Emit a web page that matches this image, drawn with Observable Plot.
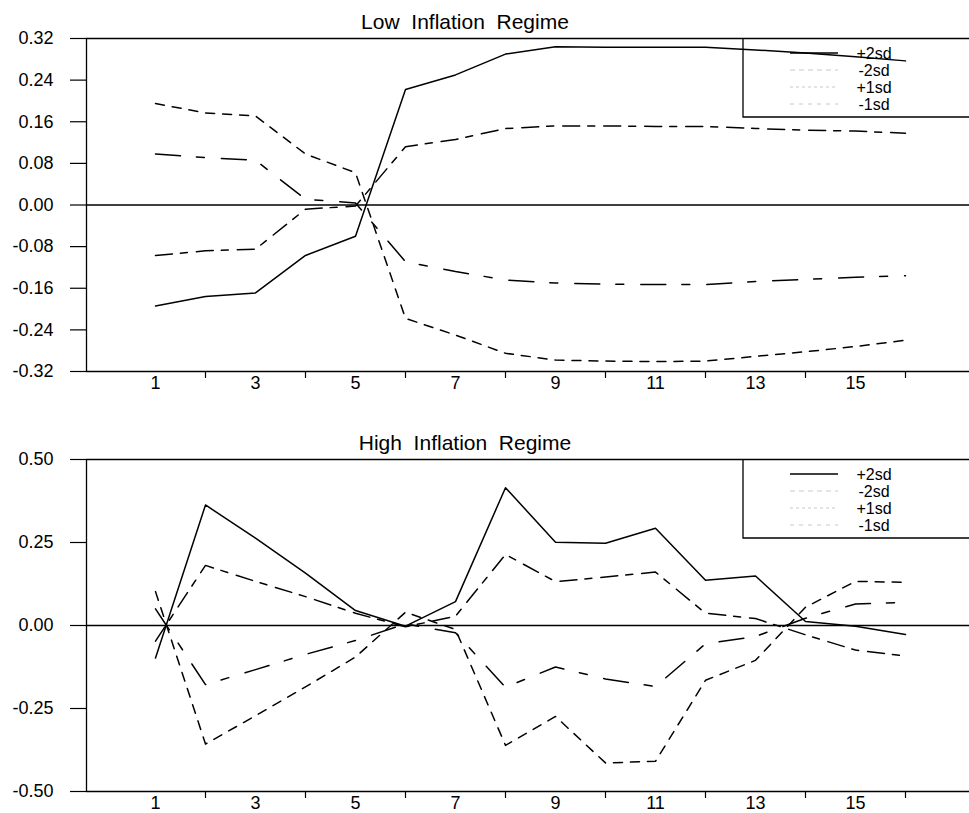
<!DOCTYPE html>
<html>
<head>
<meta charset="utf-8">
<script src="https://cdn.jsdelivr.net/npm/d3@7"></script>
<script src="https://cdn.jsdelivr.net/npm/@observablehq/plot@0.6"></script>
<style>
  body { margin: 0; background: #fff; }
  #chart { width: 969px; height: 813px; overflow: hidden; }
  #chart svg { display: block; }
</style>
</head>
<body>
<div id="chart"></div>
<script>
// ---------- data ----------
const steps = [1, 2, 3, 4, 5, 6, 7, 8, 9, 10, 11, 12, 13, 14, 15, 16];
const seriesNames = ["+2sd", "-2sd", "+1sd", "-1sd"];

// Low inflation regime
const lowPlus2  = [-0.194, -0.176, -0.169, -0.097, -0.060, 0.222, 0.250, 0.290, 0.304, 0.303, 0.303, 0.303, 0.298, 0.292, 0.285, 0.277];
const lowMinus2 = [0.195, 0.177, 0.171, 0.098, 0.062, -0.218, -0.250, -0.285, -0.298, -0.300, -0.301, -0.300, -0.291, -0.282, -0.272, -0.260];
const lowPlus1  = [-0.097, -0.088, -0.085, -0.008, -0.002, 0.112, 0.126, 0.147, 0.152, 0.152, 0.151, 0.151, 0.147, 0.144, 0.142, 0.138];
const lowMinus1 = [0.098, 0.091, 0.086, 0.011, 0.004, -0.109, -0.128, -0.144, -0.150, -0.152, -0.153, -0.153, -0.147, -0.143, -0.139, -0.136];

// High inflation regime
const highPlus2  = [-0.098, 0.363, 0.263, 0.158, 0.045, -0.002, 0.072, 0.415, 0.251, 0.248, 0.293, 0.136, 0.149, 0.012, -0.002, -0.027];
const highMinus2 = [0.102, -0.357, -0.272, -0.185, -0.095, 0.040, -0.012, -0.361, -0.274, -0.414, -0.409, -0.165, -0.105, 0.055, 0.133, 0.130];
const highPlus1  = [-0.047, 0.181, 0.133, 0.087, 0.037, -0.004, 0.028, 0.214, 0.132, 0.146, 0.161, 0.037, 0.021, -0.028, -0.074, -0.092];
const highMinus1 = [0.050, -0.178, -0.133, -0.087, -0.045, 0.005, -0.022, -0.186, -0.125, -0.161, -0.184, -0.055, -0.033, 0.022, 0.065, 0.070];

// ticks
const xTickMinor = [2, 4, 6, 8, 10, 12, 14, 16];
const xTickLabels = [1, 3, 5, 7, 9, 11, 13, 15];
const yTicksLow = [0.32, 0.24, 0.16, 0.08, 0, -0.08, -0.16, -0.24, -0.32];
const yTicksHigh = [0.5, 0.25, 0, -0.25, -0.5];

const titles = ["Low\u00a0\u00a0Inflation\u00a0\u00a0Regime", "High\u00a0\u00a0Inflation\u00a0\u00a0Regime"];

// ---------- styles ----------
const lineDash = [null, "9,8", "17,8,7,9", "25,16,8,17"];
const legendDash = [null, "5,4", "3,3", "4,5"];
const FONT = "'Liberation Sans', Arial, Helvetica, sans-serif";
const X_DOMAIN = [-0.38, 17.28];

function drawPanel(cfg) {
  const seriesValues = cfg.series;
  const rows = seriesValues.flatMap((vals, k) =>
    vals.map((v, i) => ({step: steps[i], value: v, name: seriesNames[k]})));

  const marks = [
    Plot.ruleY([cfg.yDomain[0], 0, cfg.yDomain[1]], {stroke: "black", strokeWidth: 1.3}),
    Plot.ruleX([X_DOMAIN[0]], {stroke: "black", strokeWidth: 1.3}),
    Plot.axisY(cfg.yTicks, {tickSize: 16, tickPadding: 17, tickFormat: d => d.toFixed(2),
      fontSize: 18, strokeWidth: 1.2, label: null}),
    Plot.axisX(xTickMinor, {tickSize: 7, tickFormat: () => "", label: null, strokeWidth: 1.2}),
    Plot.axisX(xTickLabels, {tickSize: 0, tickPadding: 5, fontSize: 18, label: null}),
    ...seriesNames.map((name, k) =>
      Plot.line(rows.filter(r => r.name === name), {
        x: "step", y: "value", stroke: "black", strokeWidth: 1.5,
        strokeDasharray: lineDash[k] || undefined
      }))
  ];

  const svg = Plot.plot({
    width: 969,
    height: cfg.height,
    marginLeft: 86,
    marginRight: 0,
    marginTop: cfg.marginTop,
    marginBottom: cfg.marginBottom,
    x: {domain: X_DOMAIN, label: null},
    y: {domain: cfg.yDomain, label: null},
    style: {fontFamily: FONT, fontSize: "18px", color: "black", background: "white", overflow: "visible"},
    marks
  });

  const g = d3.select(svg).append("g").attr("font-family", FONT).attr("fill", "black");
  // title
  g.append("text")
    .attr("x", 465).attr("y", cfg.titleY)
    .attr("text-anchor", "middle")
    .attr("font-size", 21)
    .text(cfg.title);

  // legend box
  const top = cfg.marginTop;
  const bx = 743, bh = 79;
  g.append("path")
    .attr("d", `M${969 + 2},${top + bh}H${bx}V${top}`)
    .attr("fill", "none").attr("stroke", "black").attr("stroke-width", 1.3);
  seriesNames.forEach((name, k) => {
    const yy = top + 15 + k * 17;
    g.append("line")
      .attr("x1", 790).attr("x2", 838).attr("y1", yy).attr("y2", yy)
      .attr("stroke", k === 0 ? "black" : "#c8c8c8")
      .attr("stroke-width", k === 0 ? 1.5 : 1)
      .attr("stroke-dasharray", legendDash[k]);
    g.append("text")
      .attr("x", 874).attr("y", yy + 6)
      .attr("font-size", 16)
      .text(name);
  });
  return svg;
}

const container = document.getElementById("chart");
container.appendChild(drawPanel({
  title: titles[0],
  series: [lowPlus2, lowMinus2, lowPlus1, lowMinus1],
  yDomain: [-0.32, 0.32],
  yTicks: yTicksLow,
  height: 420, marginTop: 38, marginBottom: 49, titleY: 29
}));
container.appendChild(drawPanel({
  title: titles[1],
  series: [highPlus2, highMinus2, highPlus1, highMinus1],
  yDomain: [-0.5, 0.5],
  yTicks: yTicksHigh,
  height: 393, marginTop: 39, marginBottom: 22, titleY: 30
}));
</script>
</body>
</html>
